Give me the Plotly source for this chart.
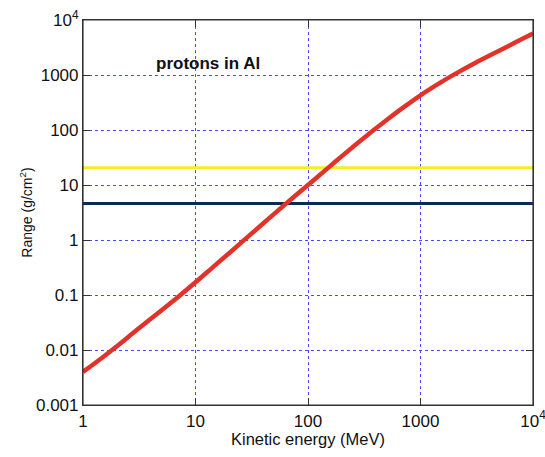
import plotly.graph_objects as go

# Proton CSDA range in aluminium
energy_mev = [1, 1.5, 2, 3, 5, 7, 10, 15, 20, 30, 50, 70, 100, 150, 200, 300,
              500, 700, 1000, 1500, 2000, 3000, 5000, 7000, 10000]
range_gcm2 = [0.00400, 0.0074, 0.0117, 0.023, 0.053, 0.092, 0.170, 0.35, 0.58,
              1.20, 2.98, 5.4, 9.98, 20.3, 33.5, 66.7, 152, 255, 428, 726, 1025,
              1615, 2760, 3930, 5710]

yellow_level = 20.5
navy_level = 4.6

x_tickvals = [1, 10, 100, 1000, 10000]
x_ticktext = ["1", "10", "100", "1000", "10<sup>4</sup>"]
y_tickvals = [0.001, 0.01, 0.1, 1, 10, 100, 1000, 10000]
y_ticktext = ["0.001", "0.01", "0.1", "1", "10", "100", "1000", "10<sup>4</sup>"]

fig = go.Figure()
fig.add_trace(go.Scatter(x=[1, 10000], y=[yellow_level, yellow_level], mode="lines",
                         line=dict(color="#f7ee1e", width=3), showlegend=False))
fig.add_trace(go.Scatter(x=[1, 10000], y=[navy_level, navy_level], mode="lines",
                         line=dict(color="#0d2a55", width=3), showlegend=False))
fig.add_trace(go.Scatter(x=energy_mev, y=range_gcm2, mode="lines",
                         line=dict(color="#e2332b", width=4.5, shape="spline", smoothing=1),
                         showlegend=False))

font = "Liberation Sans, Arial, sans-serif"
axis_common = dict(
    type="log", showline=True, linecolor="#333333", linewidth=1.2, mirror="ticks",
    ticks="inside", ticklen=7, tickcolor="#333333", tickwidth=1,
    ticklabeloverflow="allow",
    showgrid=True, gridcolor="#4a4aff", griddash="dot", gridwidth=1,
    zeroline=False, tickfont=dict(family=font, size=17, color="#111111"),
)
fig.update_layout(
    width=545, height=457,
    margin=dict(l=83, r=12, t=20, b=52, autoexpand=False),
    paper_bgcolor="white", plot_bgcolor="white",
    font=dict(family=font, color="#111111"),
    xaxis=dict(axis_common, range=[0, 4], tickvals=x_tickvals, ticktext=x_ticktext,
               title=dict(text="Kinetic energy (MeV)", font=dict(family=font, size=16.5), standoff=0)),
    yaxis=dict(axis_common, range=[-3, 4], tickvals=y_tickvals, ticktext=y_ticktext,
               title=dict(text="Range (g/cm<sup>2</sup>)", font=dict(family=font, size=14), standoff=0)),
    shapes=[dict(type="rect", xref="paper", yref="paper", x0=0, x1=1, y0=0, y1=1,
                 line=dict(color="#333333", width=1.2), fillcolor="rgba(0,0,0,0)", layer="above")],
    annotations=[dict(x=0.278, y=0.888, xref="paper", yref="paper", text="<b>protons in Al</b>",
                      xanchor="center", yanchor="middle",
                      showarrow=False, font=dict(family=font, size=17, color="#111111"))],
)
fig.write_html("out.html", config={"displayModeBar": False},
               post_script="document.body.style.margin='0';document.body.style.overflow='hidden';")
